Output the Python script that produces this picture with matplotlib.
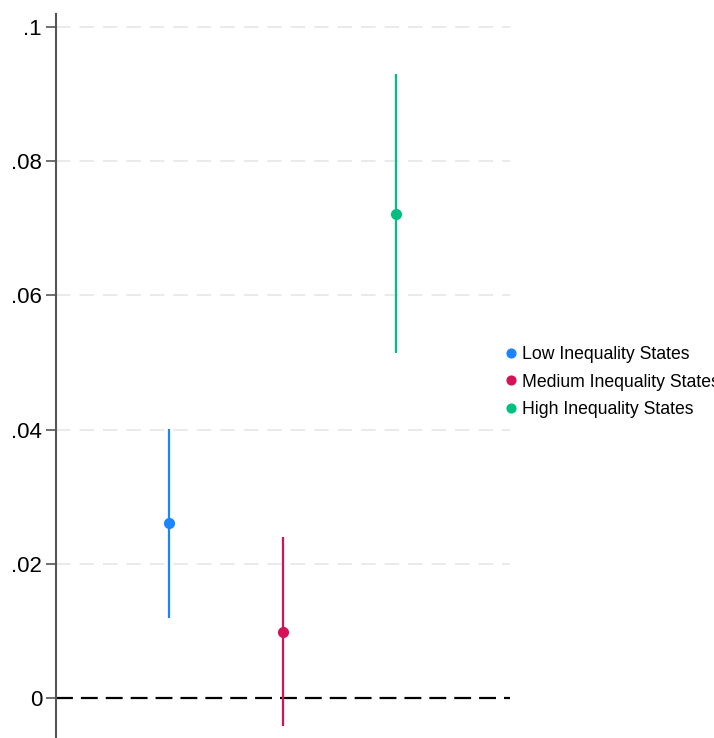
import numpy as np
import matplotlib
matplotlib.use("Agg")
import matplotlib.pyplot as plt

plt.rcParams['font.family'] = ['Liberation Sans', 'DejaVu Sans']

groups = ["Low Inequality States", "Medium Inequality States", "High Inequality States"]
xpos = [1, 2, 3]
coef = [0.0261, 0.0098, 0.0721]
ci_lo = [0.0119, -0.0042, 0.0514]
ci_hi = [0.0401, 0.0240, 0.0929]
colors = ["#1a85ff", "#d41159", "#00bf7f"]

yticks = [0, 0.02, 0.04, 0.06, 0.08, 0.1]
ylabels = ["0", ".02", ".04", ".06", ".08", ".1"]

fig = plt.figure(figsize=(7.14, 7.38), dpi=100)
ax = fig.add_axes([0.0784, 0.0014, 0.6356, 0.9796])

for y in yticks[1:]:
    ax.axhline(y, color="#e8e8e8", lw=1.3, dashes=(8, 5), zorder=0)
ax.axhline(0, color="black", lw=1.6, dashes=(7.6, 3.6), zorder=1)

handles = []
for x, c, lo, hi, col, lab in zip(xpos, coef, ci_lo, ci_hi, colors, groups):
    ax.vlines(x, lo, hi, color=col, lw=1.6, zorder=2)
    h, = ax.plot(x, c, 'o', color=col, ms=7, zorder=3, label=lab, linestyle='none')
    handles.append(h)

ax.set_xlim(0, 4)
ax.set_ylim(-0.0058, 0.1019)
ax.set_yticks(yticks)
ax.set_yticklabels(ylabels, fontsize=16)
ax.set_xticks([])
for s in ["top", "right", "bottom"]:
    ax.spines[s].set_visible(False)
ax.spines["left"].set_color("#555555")
ax.spines["left"].set_linewidth(1.5)
ax.tick_params(axis="y", length=7, width=1.2, color="#555555", pad=3)

ax.legend(handles=handles, loc="center left", bbox_to_anchor=(0.99, 0.491),
          frameon=False, fontsize=12.7, handlelength=0.6, handletextpad=0.35,
          labelspacing=0.6, borderaxespad=0, borderpad=0, markerscale=0.9)

fig.savefig("out.png", dpi=100)
